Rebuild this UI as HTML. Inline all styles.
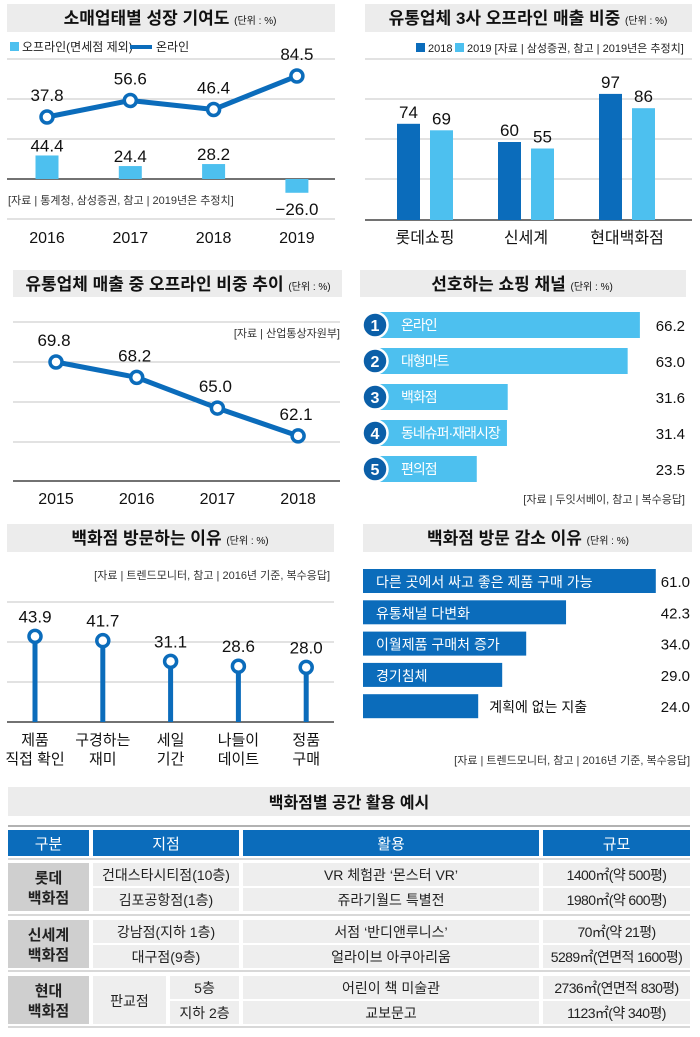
<!DOCTYPE html>
<html><head><meta charset="utf-8">
<style>
html,body{margin:0;padding:0;background:#fff;}
svg{display:block;font-family:"Liberation Sans","Noto Sans CJK KR",sans-serif;}
</style></head>
<body>
<svg id="chart" width="700" height="1037" viewBox="0 0 700 1037" xmlns="http://www.w3.org/2000/svg">
<g fill="#ececec">
<rect x="7" y="4" width="328" height="28"/><rect x="365" y="4" width="327" height="28"/>
<rect x="13" y="270" width="329" height="27"/><rect x="360" y="270" width="326" height="27"/>
<rect x="7" y="524" width="327" height="28"/><rect x="363" y="524" width="329" height="28"/>
<rect x="8" y="787" width="682" height="29"/>
</g>
<g font-weight="bold" font-size="17" fill="#111" text-anchor="middle">
<text x="170" y="24">소매업태별 성장 기여도 <tspan font-size="10" font-weight="normal">(단위 : %)</tspan></text>
<text x="528" y="24">유통업체 3사 오프라인 매출 비중 <tspan font-size="10" font-weight="normal">(단위 : %)</tspan></text>
<text x="178" y="290">유통업체 매출 중 오프라인 비중 추이 <tspan font-size="10" font-weight="normal">(단위 : %)</tspan></text>
<text x="522" y="290">선호하는 쇼핑 채널 <tspan font-size="10" font-weight="normal">(단위 : %)</tspan></text>
<text x="170" y="544">백화점 방문하는 이유 <tspan font-size="10" font-weight="normal">(단위 : %)</tspan></text>
<text x="528" y="544">백화점 방문 감소 이유 <tspan font-size="10" font-weight="normal">(단위 : %)</tspan></text>
<text x="349" y="808" font-size="16">백화점별 공간 활용 예시</text>
</g>
<rect x="10" y="42" width="9" height="9" fill="#4dc0ef"/>
<text x="22" y="51" font-size="12" fill="#222">오프라인(면세점 제외)</text>
<rect x="130" y="45" width="22" height="4" fill="#0b6cbb"/>
<text x="156" y="51" font-size="12" fill="#222">온라인</text>
<rect x="416" y="43" width="9" height="9" fill="#0b6cbb"/>
<text x="428" y="52" font-size="11" fill="#222">2018</text>
<rect x="455" y="43" width="9" height="9" fill="#4dc0ef"/>
<text x="467" y="52" font-size="11" fill="#222">2019 [자료 | 삼성증권, 참고 | 2019년은 추정치]</text>
<g font-size="11" fill="#333">
<text x="8" y="204">[자료 | 통계청, 삼성증권, 참고 | 2019년은 추정치]</text>
<text x="340" y="337" text-anchor="end">[자료 | 산업통상자원부]</text>
<text x="685" y="503" text-anchor="end">[자료 | 두잇서베이, 참고 | 복수응답]</text>
<text x="330" y="579" text-anchor="end">[자료 | 트렌드모니터, 참고 | 2016년 기준, 복수응답]</text>
<text x="690" y="764" text-anchor="end">[자료 | 트렌드모니터, 참고 | 2016년 기준, 복수응답]</text>
</g>
<g id="marks"></g>
<g id="table"></g>
</svg>
<script>
const p1Years = ["2016","2017","2018","2019"];
const p1Online = [37.8, 56.6, 46.4, 84.5];
const p1Offline = [44.4, 24.4, 28.2, -26.0];
const p2Cats = ["롯데쇼핑","신세계","현대백화점"];
const p2Y2018 = [74, 60, 97];
const p2Y2019 = [69, 55, 86];
const p3Years = ["2015","2016","2017","2018"];
const p3Values = [69.8, 68.2, 65.0, 62.1];
const p4Cats = ["온라인","대형마트","백화점","동네슈퍼·재래시장","편의점"];
const p4Values = [66.2, 63.0, 31.6, 31.4, 23.5];
const p5Cats = [["제품","직접 확인"],["구경하는","재미"],["세일","기간"],["나들이","데이트"],["정품","구매"]];
const p5Values = [43.9, 41.7, 31.1, 28.6, 28.0];
const p6Cats = ["다른 곳에서 싸고 좋은 제품 구매 가능","유통채널 다변화","이월제품 구매처 증가","경기침체","계획에 없는 지출"];
const p6Values = [61.0, 42.3, 34.0, 29.0, 24.0];

const NS = "http://www.w3.org/2000/svg";
const marks = document.getElementById("marks");
const DARK = "#0b6cbb", LIGHT = "#4dc0ef", GRID = "#c4c4c4";
function mk(tag, a, parent) {
  const e = document.createElementNS(NS, tag);
  for (const k in a) e.setAttribute(k, a[k]);
  (parent || marks).appendChild(e);
  return e;
}
function txt(s, a, parent) { const e = mk("text", a, parent); e.textContent = s; return e; }
function fmt(v){ return v < 0 ? "−" + Math.abs(v).toFixed(1) : v.toFixed(1); }
let el;

[59,99,139,219].forEach(y => { el = mk("line",{x1:7,x2:335,y1:y,y2:y,stroke:GRID,"stroke-width":1});
  });
el = mk("line",{x1:7,x2:335,y1:179,y2:179,stroke:"#444","stroke-width":1.5});
 
const p1x = i => 47 + i*83.3;
const p1LineY = v => 150.2 - v*0.878;
const p1BarY = v => 179 - v*0.53;
p1Offline.forEach((v,i) => {
  const y0 = Math.min(179, p1BarY(v)), h = Math.abs(p1BarY(v)-179);
  el = mk("rect",{x:p1x(i)-11.5,y:y0,width:23,height:h,fill:LIGHT});
   
  el = txt(fmt(v),{x:p1x(i),y: v>=0 ? p1BarY(v)-4 : p1BarY(v)+22,"font-size":17,"text-anchor":"middle",fill:"#111"});
   
  el = txt(p1Years[i],{x:p1x(i),y:243,"font-size":16,"text-anchor":"middle",fill:"#111"});
   
});
el = mk("polyline",{points:p1Online.map((v,i)=>p1x(i)+","+p1LineY(v)).join(" "),fill:"none",stroke:DARK,"stroke-width":5,"stroke-linejoin":"round"});
 
p1Online.forEach((v,i) => {
  el = mk("circle",{cx:p1x(i),cy:p1LineY(v),r:6,fill:"#fff",stroke:DARK,"stroke-width":3.5});
   
  el = txt(v.toFixed(1),{x:p1x(i),y:p1LineY(v)-16,"font-size":17,"text-anchor":"middle",fill:"#111"});
   
});

[59,99,139,179].forEach(y => { el = mk("line",{x1:365,x2:692,y1:y,y2:y,stroke:GRID,"stroke-width":1});
  });
el = mk("line",{x1:365,x2:692,y1:220,y2:220,stroke:"#444","stroke-width":1.5});
 
const p2cx = i => 425 + i*101;
const p2Y = v => 220 - v*1.3;
p2Cats.forEach((c,i) => {
  el = mk("rect",{x:p2cx(i)-28,y:p2Y(p2Y2018[i]),width:23,height:220-p2Y(p2Y2018[i]),fill:DARK});
   
  el = mk("rect",{x:p2cx(i)+5,y:p2Y(p2Y2019[i]),width:23,height:220-p2Y(p2Y2019[i]),fill:LIGHT});
   
  el = txt(String(p2Y2018[i]),{x:p2cx(i)-16.5,y:p2Y(p2Y2018[i])-6,"font-size":17,"text-anchor":"middle",fill:"#111"});
   
  el = txt(String(p2Y2019[i]),{x:p2cx(i)+16.5,y:p2Y(p2Y2019[i])-6,"font-size":17,"text-anchor":"middle",fill:"#111"});
   
  el = txt(c,{x:p2cx(i),y:243,"font-size":16,"text-anchor":"middle",fill:"#111"});
   
});

[322,362,402,442].forEach(y => { el = mk("line",{x1:13,x2:340,y1:y,y2:y,stroke:GRID,"stroke-width":1});
  });
el = mk("line",{x1:13,x2:340,y1:481,y2:481,stroke:"#444","stroke-width":1.5});
 
const p3x = i => 56 + i*80.7;
const p3Y = v => 362 + (69.8 - v)*9.6;
el = mk("polyline",{points:p3Values.map((v,i)=>p3x(i)+","+p3Y(v)).join(" "),fill:"none",stroke:DARK,"stroke-width":5,"stroke-linejoin":"round"});
 
p3Values.forEach((v,i) => {
  el = mk("circle",{cx:p3x(i),cy:p3Y(v),r:6,fill:"#fff",stroke:DARK,"stroke-width":3.5});
   
  el = txt(v.toFixed(1),{x:p3x(i)-2,y:p3Y(v)-16,"font-size":17,"text-anchor":"middle",fill:"#111"});
   
  el = txt(p3Years[i],{x:p3x(i),y:504,"font-size":16,"text-anchor":"middle",fill:"#111"});
   
});

const p4W = v => v*3.82;
p4Cats.forEach((c,i) => {
  const y = 312 + i*36;
  el = mk("rect",{x:378,y:y,width:p4W(p4Values[i])+9,height:26,fill:LIGHT});
   
  el = mk("circle",{cx:375,cy:y+13,r:12.5,fill:"#0b5fa8",stroke:"#fff","stroke-width":2.5});
   
  el = txt(String(i+1),{x:375,y:y+19,"font-size":16,"font-weight":"bold","text-anchor":"middle",fill:"#fff"});
   
  el = txt(c,{x:401,y:y+18,"font-size":14,fill:"#fff","letter-spacing":-1});
   
  el = txt(p4Values[i].toFixed(1),{x:685,y:y+19,"font-size":15,"text-anchor":"end",fill:"#111"});
   
});

[602,642,682].forEach(y => { el = mk("line",{x1:7,x2:334,y1:y,y2:y,stroke:GRID,"stroke-width":1});
  });
el = mk("line",{x1:7,x2:334,y1:722,y2:722,stroke:"#444","stroke-width":1.5});
 
const p5x = i => 35 + i*67.8;
const p5Y = v => 722 - v*1.95;
p5Values.forEach((v,i) => {
  el = mk("line",{x1:p5x(i),x2:p5x(i),y1:p5Y(v),y2:722,stroke:DARK,"stroke-width":5});
   
  el = mk("circle",{cx:p5x(i),cy:p5Y(v),r:6,fill:"#fff",stroke:DARK,"stroke-width":3.5});
   
  el = txt(v.toFixed(1),{x:p5x(i),y:p5Y(v)-14,"font-size":17,"text-anchor":"middle",fill:"#111"});
   
  p5Cats[i].forEach((ln,j) => {
    el = txt(ln,{x:p5x(i),y:745+j*19,"font-size":15,"text-anchor":"middle",fill:"#111"});
     
  });
});

const p6W = v => v*4.8;
p6Cats.forEach((c,i) => {
  const y = 569 + i*31.3;
  el = mk("rect",{x:363,y:y,width:p6W(p6Values[i]),height:24,fill:DARK});
   
  const inside = i < p6Cats.length-1;
  el = txt(c,{x: inside ? 376 : 363+p6W(p6Values[i])+11,y:y+18,"font-size":14,fill: inside ? "#fff" : "#111"});
   
  el = txt(p6Values[i].toFixed(1),{x:690,y:y+18,"font-size":15,"text-anchor":"end",fill:"#111"});
   
});

const tbl = document.getElementById("table");
const cols = [[8,89],[93,239],[243,539],[543,690]];
const heads = ["구분","지점","활용","규모"];
heads.forEach((h,i) => {
  el = mk("rect",{x:cols[i][0],y:830,width:cols[i][1]-cols[i][0],height:26,fill:DARK},tbl);
   
  el = txt(h,{x:(cols[i][0]+cols[i][1])/2,y:849,"font-size":15,"text-anchor":"middle",fill:"#fff"},tbl);
   
});
[[826,"#999"],[859,"#ccc"],[915,"#ccc"],[971,"#ccc"],[1027,"#ccc"]].forEach(([y,c]) => {
  el = mk("line",{x1:8,x2:690,y1:y,y2:y,stroke:c,"stroke-width":1.5},tbl);
   
});
const groups = [
  {name:["롯데","백화점"], y:863, rows:[["건대스타시티점(10층)","VR 체험관 ‘몬스터 VR’","1400㎡(약 500평)"],["김포공항점(1층)","쥬라기월드 특별전","1980㎡(약 600평)"]]},
  {name:["신세계","백화점"], y:920, rows:[["강남점(지하 1층)","서점 ‘반디앤루니스’","70㎡(약 21평)"],["대구점(9층)","얼라이브 아쿠아리움","5289㎡(연면적 1600평)"]]},
  {name:["현대","백화점"], y:976, rows:[["5층","어린이 책 미술관","2736㎡(연면적 830평)"],["지하 2층","교보문고","1123㎡(약 340평)"]], sub:"판교점"}
];
groups.forEach(g => {
  el = mk("rect",{x:8,y:g.y,width:81,height:48,fill:"#cfcfcf"},tbl);
   
  g.name.forEach((n,j) => {
    el = txt(n,{x:48.5,y:g.y+20+j*20,"font-size":15,"font-weight":"bold","text-anchor":"middle",fill:"#222"},tbl);
     
  });
  if (g.sub) {
    el = mk("rect",{x:93,y:g.y,width:73,height:48,fill:"#eeeeee"},tbl);
     
    el = txt(g.sub,{x:129.5,y:g.y+30,"font-size":14,"text-anchor":"middle",fill:"#222"},tbl);
     
  }
  g.rows.forEach((r,k) => {
    const y = g.y + k*25;
    const c0 = g.sub ? [170,239] : cols[1];
    const cs = [c0, cols[2], cols[3]];
    r.forEach((t,m) => {
      el = mk("rect",{x:cs[m][0],y:y,width:cs[m][1]-cs[m][0],height:23,fill:"#eeeeee"},tbl);
       
      el = txt(t,{x:(cs[m][0]+cs[m][1])/2,y:y+17,"font-size":14,"text-anchor":"middle",fill:"#222","letter-spacing":m==2?-0.6:0},tbl);
       
    });
  });
});
</script>
</body></html>
